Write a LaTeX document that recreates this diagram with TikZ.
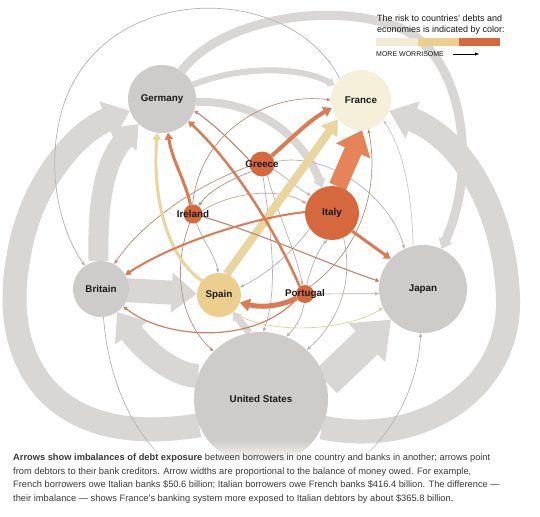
\documentclass[tikz,border=0pt]{standalone}
\usepackage{fontspec}
\setmainfont{Liberation Sans}
\usetikzlibrary{arrows.meta,fadings}
\definecolor{bandgray}{RGB}{216,215,213}
\definecolor{nodegray}{RGB}{206,204,202}
\definecolor{frcream}{RGB}{246,240,218}
\definecolor{legcream}{RGB}{240,236,212}
\definecolor{sptan}{RGB}{236,206,142}
\definecolor{hot}{RGB}{214,104,62}
\definecolor{oarrow}{RGB}{220,122,84}
\definecolor{bigorange}{RGB}{228,132,88}
\definecolor{brownln}{RGB}{192,140,120}
\definecolor{grayln}{RGB}{184,179,175}
\definecolor{paleyel}{RGB}{232,214,158}
\definecolor{yelgrn}{RGB}{214,214,150}
\definecolor{txt}{RGB}{25,25,25}
\pgfdeclarelayer{bg}
\pgfsetlayers{bg,main}
\begin{document}
\begin{tikzpicture}[x=1pt,y=-1pt,
  cn/.style={circle, inner sep=0pt, minimum size=#1},
  lab/.style={inner sep=0pt, font=\fontsize{9.8}{11}\selectfont\bfseries, text=txt},
  band/.style={draw=bandgray, line width=#1, -{Triangle[length=0pt 1.05, width=0pt 1.6]}},
  carr/.style={line width=#1, -{Triangle[length=2pt 1.6, width=1.5pt 2.2]}},
  thinl/.style={line width=0.7pt, -{Triangle[length=4pt, width=3pt]}},
  legtxt/.style={anchor=base west, inner sep=0pt, text=txt, font=\fontsize{9}{11}\selectfont},
  captxt/.style={anchor=base west, inner sep=0pt, text=txt!85!white, font=\fontsize{9.3}{11}\selectfont},
]
\useasboundingbox (0,0) rectangle (540,516);

% country nodes
\node[cn=68, fill=nodegray, label={[lab, name=germanylab]center:Germany}] (germany) at (162,99) {};
\node[cn=60, fill=frcream, label={[lab, name=francelab]center:France}] (france) at (361,100) {};
\node[cn=25, fill=hot, label={[lab, name=greecelab]center:Greece}] (greece) at (262,164) {};
\node[cn=19, fill=hot, label={[lab, name=irelandlab]center:Ireland}] (ireland) at (193,214) {};
\node[cn=54, fill=hot, label={[lab, name=italylab]center:Italy}] (italy) at (332,213) {};
\node[cn=56, fill=nodegray, label={[lab, name=britainlab]center:Britain}] (britain) at (101,289) {};
\node[cn=44, fill=sptan, label={[lab, name=spainlab]center:Spain}] (spain) at (219,295) {};
\node[cn=18, fill=hot, label={[lab, name=portugallab]center:Portugal}] (portugal) at (305,294) {};
\node[cn=88, fill=nodegray, label={[lab, name=japanlab]center:Japan}] (japan) at (423,289) {};
\node[cn=134, fill=nodegray, label={[lab, name=uslab]center:United States}] (us) at (261,399) {};

\begin{pgfonlayer}{bg}
\fill[white] (0,0) rectangle (540,516);
% wide gray bands
\draw[band=24] (us.203) .. controls (50,450) and (0,360) .. (18,260) .. controls (30,180) and (80,130) .. (germany);
\draw[band=20] (britain.95) .. controls (97,200) and (105,160) .. (germany);
\draw[band=24] (britain.center) -- (spain);
\draw[band=24] (us.160) .. controls (170,375) and (140,345) .. (britain);
\draw[band=7] (us.100) -- (spain);
\draw[band=32] (us.15) -- (japan);
\draw[band=24] (us.-25) .. controls (420,448) and (510,390) .. (508,300) .. controls (506,215) and (465,140) .. (france);
\draw[band=9] (germany.55) .. controls (220,20) and (330,0) .. (400,28) .. controls (465,55) and (478,170) .. (japan);
\draw[band=6] (germany.25) .. controls (240,66) and (300,66) .. (france);
\draw[band=8] (germany.-5) .. controls (250,100) and (300,130) .. (italy);
% thin lines
\draw[thinl, draw=grayln] (france.135) .. controls (290,-20) and (100,-20) .. (62,110) .. controls (45,170) and (60,230) .. (britain);
\draw[thinl, draw=grayln] (britain.-85) .. controls (112,430) and (180,500) .. (265,498) .. controls (350,496) and (416,420) .. (japan);
\draw[thinl, draw=brownln] (ireland.92) .. controls (200,130) and (270,92) .. (france.180);
\draw[thinl, draw=brownln] (greece.215) .. controls (230,180) and (210,190) .. (ireland.55);
\draw[thinl, draw=brownln] (greece.190) .. controls (195,185) and (140,225) .. (britain.62);
\draw[thinl, draw=grayln] (ireland.-70) .. controls (205,245) and (215,255) .. (spain.92);
\draw[thinl, draw=grayln] (italy.215) .. controls (290,255) and (265,275) .. (spain.20);
\draw[thinl, draw=brownln] (ireland.-110) .. controls (172,270) and (180,320) .. (us.135);
\draw[thinl, draw=grayln] (greece.-85) .. controls (272,240) and (278,290) .. (us.88);
\draw[thinl, draw=grayln] (italy.-65) .. controls (355,285) and (335,325) .. (us.47);
\draw[thinl, draw=grayln] (portugal.0) -- (japan.186);
\draw[thinl, draw=grayln] (greece.10) .. controls (330,150) and (392,200) .. (japan.115);
\draw[thinl, draw=brownln] (portugal.55) .. controls (360,250) and (380,190) .. (france.-76);
\draw[thinl, draw=grayln!70] (japan.103) .. controls (412,185) and (400,145) .. (france.-42);
\draw[thinl, draw=yelgrn] (spain.-50) .. controls (265,335) and (345,332) .. (japan.205);
\draw[thinl, draw=brownln!80] (ireland.20) .. controls (240,188) and (285,190) .. (italy.160);
\draw[thinl, draw=grayln] (greece.-25) .. controls (290,180) and (300,190) .. (italy.140);
\draw[thinl, draw=grayln] (portugal.80) .. controls (312,265) and (318,250) .. (italy.-100);
\draw[thinl, draw=grayln] (greece.-65) .. controls (280,220) and (295,250) .. (portugal.105);
\draw[thinl, draw=grayln] (portugal.-95) .. controls (302,315) and (298,325) .. (us.68);
% colored arrows
\draw[carr=3, draw=paleyel] (spain.140) .. controls (168,258) and (152,200) .. (germany.-98);
\draw[carr=8, draw=paleyel] (spain.70) -- (france.-140);
\draw[draw=bigorange, line width=18, -{Triangle[length=0pt 1.25, width=0pt 2]}] (italy.78) -- (france.-88);
\draw[carr=4, draw=oarrow] (greece.40) .. controls (295,135) and (310,120) .. (france.-165);
\draw[carr=3, draw=oarrow] (ireland.105) .. controls (185,180) and (172,160) .. (germany.-80);
\draw[carr=2.5, draw=oarrow!85!brownln] (portugal.125) .. controls (275,230) and (235,165) .. (germany.-40);
\draw[carr=1.2, draw=brownln] (greece.165) .. controls (235,145) and (215,125) .. (germany.-20);
\draw[carr=2, draw=oarrow] (italy.178) .. controls (250,218) and (170,245) .. (britain.30);
\draw[carr=5, draw=oarrow] (portugal.205) .. controls (282,306) and (262,308) .. (spain.-20);
\draw[carr=1.2, draw=oarrow!70!brownln] (portugal.-150) .. controls (255,345) and (165,340) .. (britain.-38);
\draw[carr=3, draw=oarrow] (italy.-42) -- (japan.137);
\draw[carr=1.2, draw=brownln] (ireland.-15) .. controls (265,235) and (330,265) .. (japan.170);
\end{pgfonlayer}

% legend
\node[legtxt] (leg1) at (377,22) {The risk to countries’ debts and};
\node[legtxt] (leg2) at (377,33) {economies is indicated by color:};
\fill[legcream] (376,38) rectangle (418,46);
\fill[sptan] (418,38) rectangle (459,46);
\fill[hot] (459,38) rectangle (500,46);
\node[legtxt, font=\fontsize{7}{8}\selectfont] (mw) at (376,57) {MORE WORRISOME};
\coordinate (mwa) at (453,54);
\coordinate (mwb) at (479,54);
\draw[line width=0.7pt, -{Triangle[length=4pt, width=3pt]}] (mwa) -- (mwb);

% caption
\fill[white, path fading=north] (0,440) rectangle (540,462);
\fill[white] (0,462) rectangle (540,516);
\node[captxt] (cap1) at (13,460) {\textbf{Arrows show imbalances of debt exposure} between borrowers in one country and banks in another; arrows point};
\node[captxt] (cap2) at (13,474) {from debtors to their bank creditors. Arrow widths are proportional to the balance of money owed. For example,};
\node[captxt] (cap3) at (13,487.5) {French borrowers owe Italian banks \$50.6 billion; Italian borrowers owe French banks \$416.4 billion. The difference —};
\node[captxt] (cap4) at (13,501) {their imbalance — shows France’s banking system more exposed to Italian debtors by about \$365.8 billion.};
\end{tikzpicture}
\end{document}
